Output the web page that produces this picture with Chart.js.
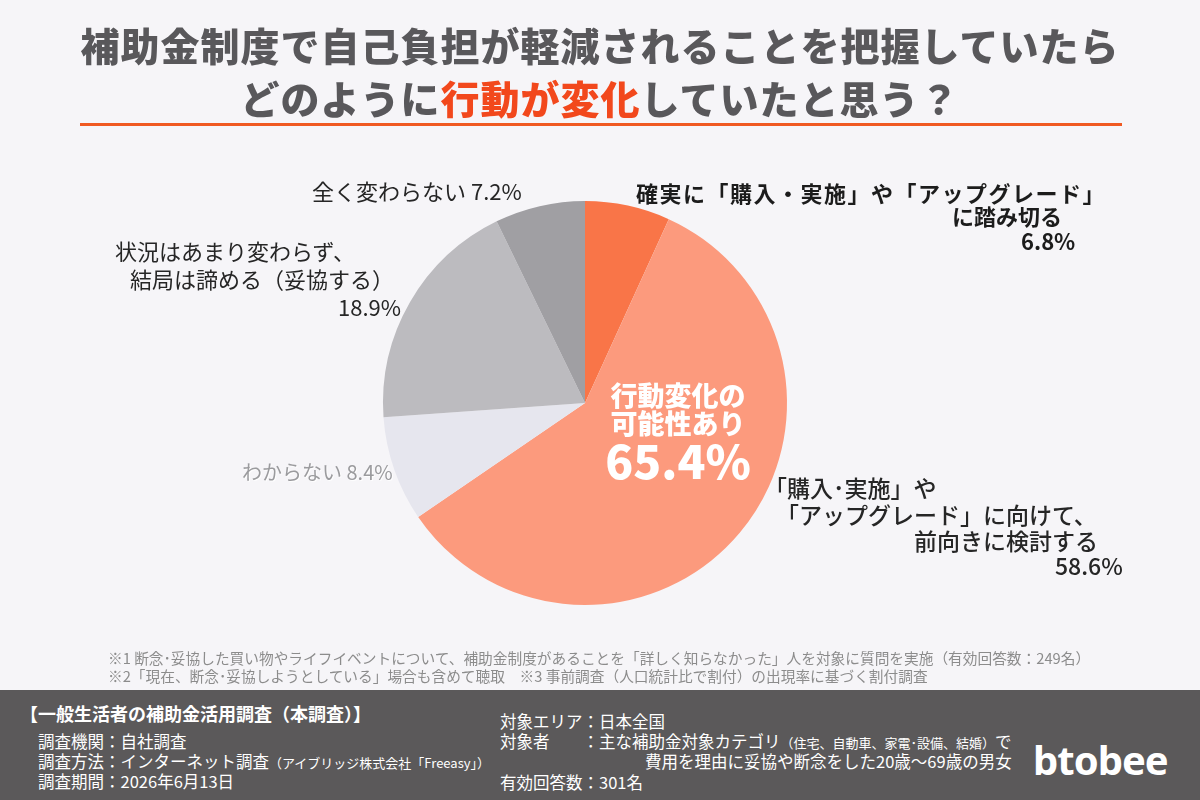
<!DOCTYPE html>
<html lang="ja">
<head>
<meta charset="utf-8">
<script src="https://cdn.jsdelivr.net/npm/chart.js@4/dist/chart.umd.min.js"></script>
<style>
  html, body { margin: 0; padding: 0; }
  body {
    width: 1200px; height: 800px; position: relative; overflow: hidden;
    background: #f6f5f8;
    font-family: "Noto Sans CJK JP", "Noto Sans", sans-serif;
    color: #222;
  }
  #wrap { position: absolute; left: 0; top: 0; width: 1200px; height: 800px; }
  .t { position: absolute; white-space: nowrap; line-height: 1; }
  .title { left: 0; width: 1200px; text-align: center; font-size: 39px; letter-spacing: 1px; font-weight: 900; color: #59585b; }
  .title .hl { color: #f2481c; }
  #rule { position: absolute; left: 80px; top: 123px; width: 1042px; height: 3px; background: #f05a22; }
  .lbl { font-size: 22px; color: #262626; }
  .lblb { font-size: 22px; font-weight: 700; color: #1c1c1c; }
  .center { color: #fff; font-weight: 900; text-align: center; width: 200px; left: 578px; }
  .note { font-size: 14.7px; color: #8c8c8c; }
  #footer { position: absolute; left: 0; top: 690px; width: 1200px; height: 110px; background: #5b595a; }
  .f { color: #fff; font-size: 16.5px; }
  .f small { font-size: 13px; }
</style>
</head>
<body>
<div id="wrap"><canvas id="pie" width="1200" height="800"></canvas></div>

<div class="t title" style="top:25px;">補助金制度で自己負担が軽減されることを把握していたら</div>
<div class="t title" style="top:78px;">どのように<span class="hl">行動が変化</span>していたと思う？</div>
<div id="rule"></div>

<div class="t lbl" id="l4" style="left:312px; top:179px;"></div>
<div class="t lbl" style="left:115px; top:239px;">状況はあまり変わらず、</div>
<div class="t lbl" style="left:130px; top:267px;">結局は諦める（妥協する）</div>
<div class="t lbl" id="l3v" style="left:338px; top:295px;"></div>
<div class="t lbl" id="l2" style="left:242px; top:462px; font-size:20px; color:#9b9b9e; text-shadow:1px 1px 1px #fff;"></div>

<div class="t lblb" style="left:636px; top:181px; letter-spacing:1.5px;">確実に「購入・実施」や「アップグレード」</div>
<div class="t lblb" style="left:952px; top:204px;">に踏み切る</div>
<div class="t lblb" id="l0v" style="left:1021px; top:229px;"></div>

<div class="t lbl" style="left:764px; top:476px; font-size:23px; font-weight:500;">「購入･実施」や</div>
<div class="t lbl" style="left:776px; top:503px; font-size:23px; font-weight:500;">「アップグレード」に向けて、</div>
<div class="t lbl" style="left:914px; top:529px; font-size:23px; font-weight:500;">前向きに検討する</div>
<div class="t lbl" id="l1v" style="left:1055px; top:554px; font-size:23px; font-weight:500;"></div>

<div class="t center" style="top:381px; font-size:27px;">行動変化の</div>
<div class="t center" style="top:409px; font-size:27px;">可能性あり</div>
<div class="t center" id="sumv" style="top:436px; font-size:46px;"></div>

<div class="t note" style="left:108px; top:651px;">※1 断念･妥協した買い物やライフイベントについて、補助金制度があることを「詳しく知らなかった」人を対象に質問を実施（有効回答数：249名）</div>
<div class="t note" style="left:108px; top:669px;">※2「現在、断念･妥協しようとしている」場合も含めて聴取　※3 事前調査（人口統計比で割付）の出現率に基づく割付調査</div>

<div id="footer">
  <div class="t f" style="left:20px; top:14px; font-size:18px; font-weight:700;">【一般生活者の補助金活用調査（本調査）】</div>
  <div class="t f" style="left:38px; top:43px;">調査機関：自社調査</div>
  <div class="t f" style="left:38px; top:63px;">調査方法：インターネット調査<small>（アイブリッジ株式会社「Freeasy」）</small></div>
  <div class="t f" style="left:38px; top:83px;">調査期間：2026年6月13日</div>
  <div class="t f" style="left:500px; top:23px;">対象エリア：日本全国</div>
  <div class="t f" style="left:500px; top:43px;">対象者　　：主な補助金対象カテゴリ<small>（住宅、自動車、家電･設備、結婚）</small>で</div>
  <div class="t f" style="left:645px; top:63px;">費用を理由に妥協や断念をした20歳～69歳の男女</div>
  <div class="t f" style="left:500px; top:84px;">有効回答数：301名</div>
  <div class="t f" style="left:1033px; top:50px; font-size:40px; font-weight:700; letter-spacing:-1px; font-family:'Noto Sans', sans-serif;">btobee</div>
</div>

<script>
// 回答の選択肢（12時から時計回り）
const categories = [
  '確実に「購入・実施」や「アップグレード」に踏み切る',
  '「購入・実施」や「アップグレード」に向けて、前向きに検討する',
  'わからない',
  '状況はあまり変わらず、結局は諦める（妥協する）',
  '全く変わらない'
];
const values = [6.8, 58.6, 8.4, 18.9, 7.2];
const sliceColors = ['#f97548', '#fc9a7d', '#e6e6ee', '#bcbbbf', '#a09fa3'];

// ラベルの数値
document.getElementById('l0v').textContent = values[0].toFixed(1) + '%';
document.getElementById('l1v').textContent = values[1].toFixed(1) + '%';
document.getElementById('l2').textContent = 'わからない ' + values[2].toFixed(1) + '%';
document.getElementById('l3v').textContent = values[3].toFixed(1) + '%';
document.getElementById('l4').textContent = '全く変わらない ' + values[4].toFixed(1) + '%';
document.getElementById('sumv').textContent = (values[0] + values[1]).toFixed(1) + '%';

new Chart(document.getElementById('pie'), {
  type: 'pie',
  data: {
    labels: categories,
    datasets: [{
      data: values,
      backgroundColor: sliceColors,
      borderWidth: 0
    }]
  },
  options: {
    responsive: false,
    animation: false,
    layout: { padding: { left: 383, right: 413, top: 201, bottom: 195 } },
    plugins: {
      legend: { display: false },
      tooltip: { enabled: false }
    }
  }
});
</script>
</body>
</html>
